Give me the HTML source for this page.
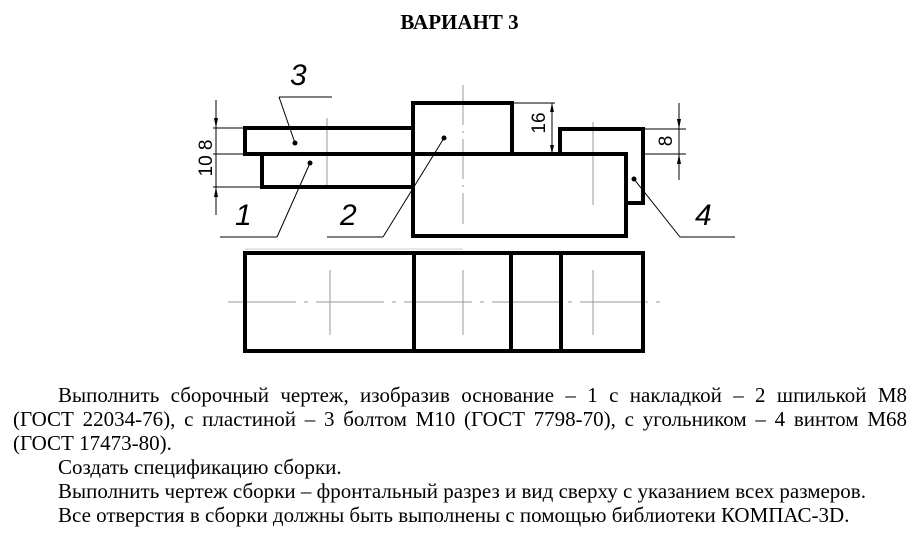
<!DOCTYPE html>
<html><head><meta charset="utf-8"><style>
html,body{margin:0;padding:0;background:#fff;width:919px;height:538px;overflow:hidden;position:relative}
.t{position:absolute;font-family:"Liberation Serif",serif;font-size:21px;color:#000;white-space:nowrap;line-height:24px}
.j{text-align:justify;text-align-last:justify;white-space:normal}
</style></head><body>
<div class="t" style="left:0;width:919px;top:10px;text-align:center;font-weight:bold;font-size:21px">ВАРИАНТ 3</div>
<svg width="919" height="538" style="position:absolute;left:0;top:0" xmlns="http://www.w3.org/2000/svg">
<g stroke="#999" stroke-width="1" fill="none">
<line x1="327" y1="118" x2="327" y2="187"/>
<line x1="463" y1="85" x2="463" y2="224" stroke-dasharray="40,6,2,6"/>
<line x1="593" y1="122" x2="593" y2="205"/>
<line x1="228" y1="302" x2="660" y2="302" stroke-dasharray="68,8,4,8"/>
<line x1="330" y1="270" x2="330" y2="335"/>
<line x1="463" y1="270" x2="463" y2="335"/>
<line x1="593" y1="270" x2="593" y2="335"/>
<line x1="245" y1="249" x2="463" y2="249" stroke="#ccc"/>
</g>
<g stroke="#000" stroke-width="1" fill="none">
<line x1="216" y1="100" x2="216" y2="215"/>
<line x1="213" y1="128" x2="245" y2="128"/>
<line x1="213" y1="154" x2="245" y2="154"/>
<line x1="213" y1="187" x2="262" y2="187"/>
<line x1="512" y1="103" x2="555" y2="103"/>
<line x1="552" y1="103" x2="552" y2="154"/>
<line x1="643" y1="129" x2="686" y2="129"/>
<line x1="643" y1="154" x2="686" y2="154"/>
<line x1="679" y1="103" x2="679" y2="180"/>
<line x1="279" y1="97" x2="332" y2="97"/>
<line x1="279" y1="97" x2="295" y2="143"/>
<line x1="220" y1="237" x2="277" y2="237"/>
<line x1="277" y1="237" x2="310" y2="163"/>
<line x1="327" y1="237" x2="383" y2="237"/>
<line x1="383" y1="237" x2="444" y2="138"/>
<line x1="634" y1="179" x2="680" y2="237"/>
<line x1="680" y1="237" x2="735" y2="237"/>
</g>
<g fill="#000">
<polygon points="216,128 214,118 218,118"/><polygon points="216,187 214,197 218,197"/>
<polygon points="552,103 550,112 554,112"/><polygon points="552,154 550,145 554,145"/>
<polygon points="679,129 677,119 681,119"/><polygon points="679,154 677,164 681,164"/>
<circle cx="295" cy="143" r="2.5"/><circle cx="310" cy="163" r="2.5"/><circle cx="444" cy="138" r="2.5"/><circle cx="634" cy="179" r="2.5"/>
</g>
<g stroke="#000" stroke-width="4" fill="none" stroke-linejoin="miter">
<rect x="245" y="128" width="168" height="26"/>
<polyline points="262,154 262,187 413,187"/>
<rect x="413" y="103" width="99" height="51"/>
<rect x="413" y="154" width="213" height="82"/>
<polyline points="560,154 560,129 643,129 643,203 626,203"/>
<line x1="512" y1="154" x2="626" y2="154"/>
<rect x="245" y="253" width="398" height="98"/>
<line x1="414" y1="253" x2="414" y2="351"/>
<line x1="511" y1="253" x2="511" y2="351"/>
<line x1="561" y1="253" x2="561" y2="351"/>
</g>
<g font-family="Liberation Sans, sans-serif" fill="#000">
<text x="290" y="85" font-size="30" font-style="italic">3</text>
<text x="235" y="225" font-size="30" font-style="italic">1</text>
<text x="340" y="225" font-size="30" font-style="italic">2</text>
<text x="695" y="225" font-size="30" font-style="italic">4</text>
<text transform="translate(212,158) rotate(-90)" font-size="19" text-anchor="middle">10 8</text>
<text transform="translate(545,123) rotate(-90)" font-size="19" text-anchor="middle">16</text>
<text transform="translate(672,141) rotate(-90)" font-size="19" text-anchor="middle">8</text>
</g>
</svg>
<div class="t j" style="left:58px;top:383px;width:849px">Выполнить сборочный чертеж, изобразив основание – 1 с накладкой – 2 шпилькой М8</div>
<div class="t j" style="left:13px;top:407px;width:894px">(ГОСТ 22034-76), с пластиной – 3 болтом М10 (ГОСТ 7798-70), с угольником – 4 винтом М68</div>
<div class="t" style="left:13px;top:431px">(ГОСТ 17473-80).</div>
<div class="t" style="left:58px;top:455px">Создать спецификацию сборки.</div>
<div class="t" style="left:58px;top:479px">Выполнить чертеж сборки – фронтальный разрез и вид сверху с указанием всех размеров.</div>
<div class="t" style="left:58px;top:503px">Все отверстия в сборки должны быть выполнены с помощью библиотеки КОМПАС-3D.</div>
</body></html>
